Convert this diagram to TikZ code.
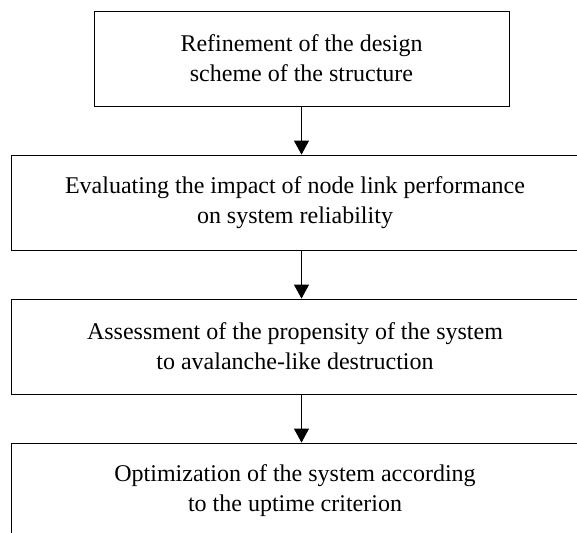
\documentclass[tikz,border=0pt]{standalone}
\usepackage{fontspec}
\setmainfont{Liberation Serif}
\usetikzlibrary{arrows.meta}

\begin{document}
\begin{tikzpicture}[x=1pt, y=-1pt,
		stagebox/.style={draw, line width=0.8pt, align=center, minimum height=95pt,
			font=\fontsize{24}{30}\selectfont},
		flowarrow/.style={line width=0.9pt, -{Triangle[width=15pt,length=14pt]}}]
		%%%%% START %%%%%
		\clip (0, 0) rectangle (577, 532);
		
		\node[stagebox, minimum width=415pt] (refine) at (301.5, 58.5) {Refinement of the design\\ scheme of the structure};
		\node[stagebox, minimum width=568pt] (impact) at (295, 202.5) {Evaluating the impact of node link performance\\on system reliability};
		\node[stagebox, minimum width=568pt] (avalanche) at (295, 346.5) {Assessment of the propensity of the system\\to avalanche-like destruction};
		\node[stagebox, minimum width=568pt] (uptime) at (295, 490.5) {Optimization of the system according\\to the uptime criterion};
		
		\draw[flowarrow] (refine.south) -- (refine.south |- impact.north);
		\draw[flowarrow] (refine.south |- impact.south) -- (refine.south |- avalanche.north);
		\draw[flowarrow] (refine.south |- avalanche.south) -- (refine.south |- uptime.north);
		%%%%% END %%%%%
	\end{tikzpicture}
\end{document}
